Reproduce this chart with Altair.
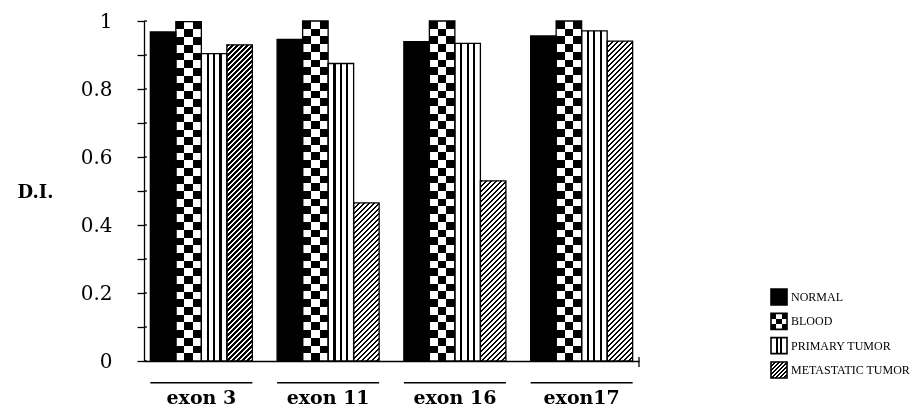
import altair as alt
import pandas as pd

# ---------------- data ----------------
exons = ["exon 3", "exon 11", "exon 16", "exon17"]
series = ["NORMAL", "BLOOD", "PRIMARY TUMOR", "METASTATIC TUMOR"]
normal = [0.968, 0.946, 0.939, 0.956]
blood = [0.998, 1.0, 1.0, 1.0]
primary = [0.904, 0.875, 0.934, 0.971]
metastatic = [0.930, 0.465, 0.530, 0.941]
y_ticks = [0, 0.1, 0.2, 0.3, 0.4, 0.5, 0.6, 0.7, 0.8, 0.9, 1.0]

# ---------------- layout ----------------
W, H = 495, 340
PAD_IN, PAD_OUT = 0.195, 0.05
FONT = "DejaVu Serif"
LEG_FONT = "Liberation Serif"
LEG_SYM_X = 635
LEG_TXT_X = 647
LEG_RANGE = [276, 349]

rows = []
for name, vals in zip(series, [normal, blood, primary, metastatic]):
    for e, v in zip(exons, vals):
        rows.append({"exon": e, "series": name, "value": v})
df = pd.DataFrame(rows)

step = W / (len(exons) - PAD_IN + 2 * PAD_OUT)
bar_w = step * (1 - PAD_IN) / len(series)


def stripes(intervals, on, off, x2=1, y2=0):
    stops = [{"offset": 0, "color": off}]
    for a, b in intervals:
        a = round(max(0.0, min(1.0, a)), 5)
        b = round(max(0.0, min(1.0, b)), 5)
        stops += [{"offset": a, "color": off}, {"offset": a, "color": on},
                  {"offset": b, "color": on}, {"offset": b, "color": off}]
    stops.append({"offset": 1, "color": off})
    return {"gradient": "linear", "x1": 0, "y1": 0, "x2": x2, "y2": y2, "stops": stops}


def diagonal(w, h, period, dark):
    b = h / w
    k = 1 + b * b
    n = int((w + h) / period) + 2
    iv = [((i * period) / w / k, (i * period + dark) / w / k) for i in range(n)]
    return stripes(iv, "black", "white", x2=1, y2=b)


VSTRIPES = stripes([(0.21, 0.29), (0.46, 0.54), (0.71, 0.79)], "black", "white")
CHECK_COLS = stripes([(1 / 3, 2 / 3)], "black", "white")
CHECK_ROWS = stripes([(2 * i / 44, (2 * i + 1) / 44) for i in range(22)], "white", "black", x2=0, y2=1)

x_axis = alt.Axis(title=None, ticks=False, labelFont=FONT, labelFontSize=19,
                  labelFontWeight="bold", labelColor="black", labelPadding=27,
                  domainColor="black", domainWidth=1.3, labelAngle=0)
y_axis = alt.Axis(values=y_ticks, title="D.I.", titleAngle=0, titleFont=FONT,
                  titleFontSize=18, titleFontWeight="bold", titleColor="black",
                  titleX=-109, titleY=171, titleAlign="center", titleBaseline="middle",
                  labelFont=FONT, labelFontSize=20, labelColor="black", labelPadding=25,
                  labelExpr="round(datum.value * 10) % 2 == 0 ? format(datum.value, '~g') : ''",
                  tickSize=7, tickColor="black", tickWidth=1.3, domainColor="black",
                  domainWidth=1.3, grid=False)

X = alt.X("exon:N", sort=exons,
          scale=alt.Scale(domain=exons, paddingInner=PAD_IN, paddingOuter=PAD_OUT),
          axis=x_axis)
XO = alt.XOffset("series:N", scale=alt.Scale(domain=series, paddingInner=0, paddingOuter=0))
Y = alt.Y("value:Q", scale=alt.Scale(domain=[0, 1], nice=False), axis=y_axis)

base = alt.Chart(df).encode(x=X, xOffset=XO, y=Y)


def only(s):
    return base.transform_filter(alt.datum.series == s)


bar_layers = [
    only("NORMAL").mark_bar(fill="black"),
    only("BLOOD").mark_bar(fill=CHECK_COLS),
    only("BLOOD").mark_bar(fill=CHECK_ROWS, blend="difference"),
    only("PRIMARY TUMOR").mark_bar(fill=VSTRIPES),
]
for e, v in zip(exons, metastatic):
    bar_layers.append(
        base.transform_filter((alt.datum.series == "METASTATIC TUMOR") & (alt.datum.exon == e))
        .mark_bar(fill=diagonal(bar_w, v * H, 5.0, 2.4))
    )
bar_layers.append(base.mark_bar(fillOpacity=0, stroke="black", strokeWidth=1.3))

underline = alt.Chart(pd.DataFrame({"exon": exons})).mark_rect(color="black").encode(
    x=X, y=alt.value(H + 21), y2=alt.value(H + 22.5))
inner_ticks = alt.Chart(pd.DataFrame({"value": y_ticks})).mark_rule(
    color="black", strokeWidth=1.3).encode(y=Y, x=alt.value(0), x2=alt.value(3))
end_tick = alt.Chart(pd.DataFrame({"k": [0]})).mark_rule(
    color="black", strokeWidth=1.3).encode(x=alt.value(W), y=alt.value(H - 4), y2=alt.value(H + 6))

bars = alt.layer(*bar_layers, underline, inner_ticks, end_tick)

# ---------------- legend ----------------
ldf = pd.DataFrame({"series": series})
LY = alt.Y("series:N", sort=series,
           scale=alt.Scale(type="point", domain=series, range=LEG_RANGE, padding=0),
           axis=None)
lbase = alt.Chart(ldf).encode(y=LY, x=alt.value(LEG_SYM_X))


def lonly(s):
    return lbase.transform_filter(alt.datum.series == s)


SQ = 256
legend_layers = [
    lonly("NORMAL").mark_square(size=SQ, fill="black", opacity=1),
    lonly("BLOOD").mark_square(size=SQ, fill=stripes([(1 / 3, 2 / 3)], "black", "white"), opacity=1),
    lonly("BLOOD").mark_square(size=SQ, fill=stripes([(0, 1 / 3), (2 / 3, 1)], "white", "black", x2=0, y2=1),
                               blend="difference", opacity=1),
    lonly("PRIMARY TUMOR").mark_square(size=SQ, fill=stripes([(0.3, 0.42), (0.58, 0.7)], "black", "white"), opacity=1),
    lonly("METASTATIC TUMOR").mark_square(size=SQ, fill=diagonal(16, 16, 4.0, 1.8), opacity=1),
    lbase.mark_square(size=SQ, fillOpacity=0, stroke="black", strokeWidth=1.6, opacity=1),
    alt.Chart(ldf).mark_text(align="left", baseline="middle", font=LEG_FONT, fontSize=12,
                             color="black").encode(y=LY, x=alt.value(LEG_TXT_X), text="series:N"),
]
legend = alt.layer(*legend_layers)

chart = alt.layer(bars, legend).resolve_scale(y="independent").properties(
    width=W, height=H,
    autosize=alt.AutoSizeParams(type="none"),
    padding={"left": 136, "top": 13, "right": 275, "bottom": 51},
    background="white",
).configure_view(stroke=None)

chart.save("out.html", embed_options={"renderer": "svg", "actions": False})
